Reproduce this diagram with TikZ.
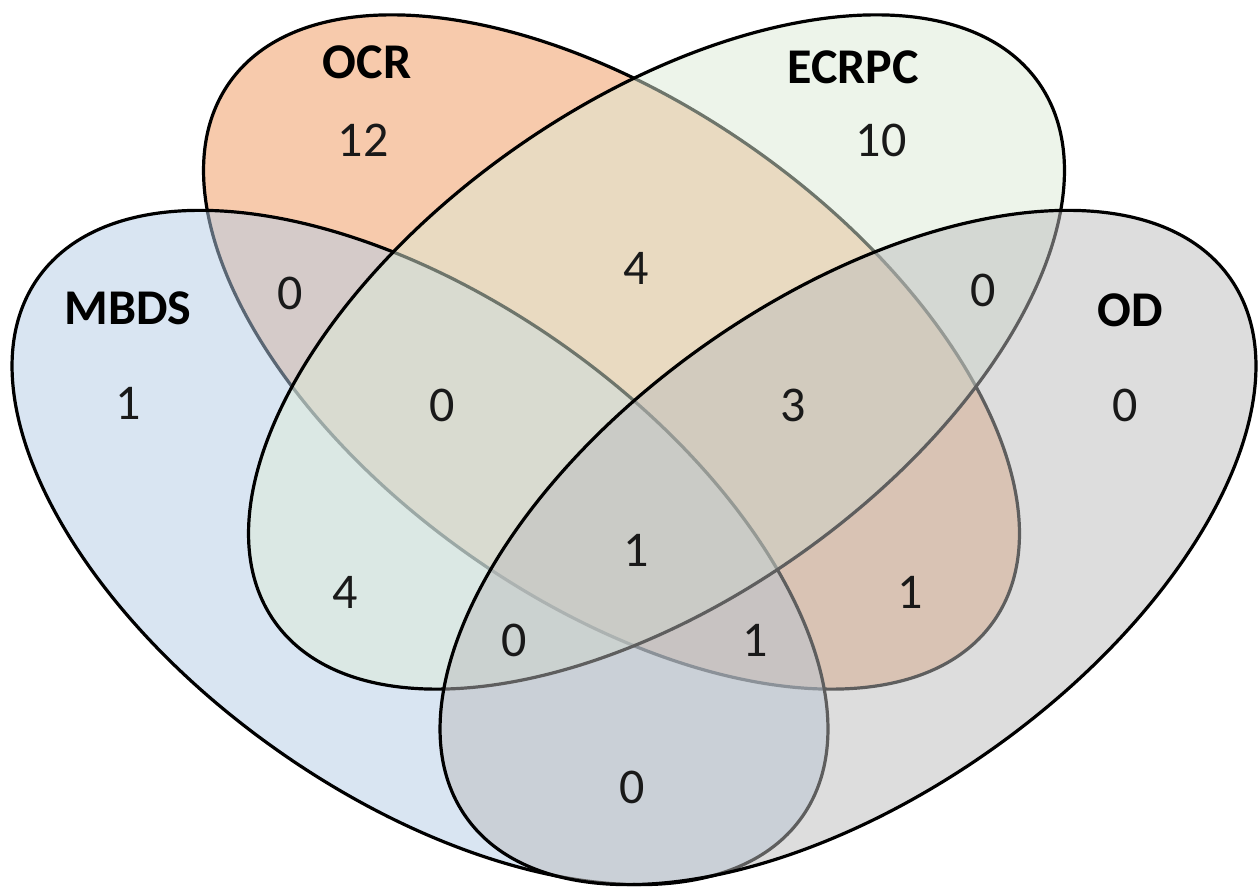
\documentclass[tikz,border=0pt]{standalone}
\usepackage{fontspec}
\setmainfont{Carlito}
\definecolor{ocrfill}{RGB}{241,151,91}
\definecolor{ecrfill}{RGB}{221,235,215}
\definecolor{mbdsfill}{RGB}{181,205,231}
\definecolor{odfill}{RGB}{189,189,189}
\definecolor{numcol}{RGB}{25,25,25}
\begin{document}
\begin{tikzpicture}[x=1pt,y=1pt,
  setshape/.style={line width=3.2pt, draw=black, fill opacity=0.5},
  setlabel/.style={font=\fontsize{50}{58}\selectfont\bfseries, inner sep=0pt, text=black},
  count/.style={font=\fontsize{50}{58}\selectfont, inner sep=0pt, text=numcol}]
\useasboundingbox (0,0) rectangle (1260,888);
\fill[white] (0,0) rectangle (1260,888);
% sets (drawing order: OCR, MBDS, ECRPC, OD)
\draw[setshape, fill=ocrfill, shift={(611.5,536)}, rotate=-35.2] (0,0) ellipse [x radius=467.5, y radius=247.9];
\draw[setshape, fill=mbdsfill, shift={(420,340.5)}, rotate=-35.2] (0,0) ellipse [x radius=467.5, y radius=247.9];
\draw[setshape, fill=ecrfill, shift={(656.5,536)}, rotate=35.2] (0,0) ellipse [x radius=467.5, y radius=247.9];
\draw[setshape, fill=odfill, shift={(848,340.5)}, rotate=35.2] (0,0) ellipse [x radius=467.5, y radius=247.9];
% set names
\node[setlabel] (lOCR) at (367,826) {OCR};
\node[setlabel] (lECRPC) at (853,821) {ECRPC};
\node[setlabel] (lMBDS) at (128,580) {MBDS};
\node[setlabel] (lOD) at (1130,578) {OD};
% counts
\node[count] (nOCR) at (363,748) {12};
\node[count] (nECR) at (881,748) {10};
\node[count] (nMBDS) at (128,485) {1};
\node[count] (nOD) at (1125,483) {0};
\node[count] (nMO) at (290,595) {0};
\node[count] (nOE) at (636,620) {4};
\node[count] (nEOD) at (983,598) {0};
\node[count] (nMOE) at (442,483) {0};
\node[count] (nOEOD) at (793,483) {3};
\node[count] (nAll) at (636,338) {1};
\node[count] (nME) at (345,296) {4};
\node[count] (nMEOD) at (514,248) {0};
\node[count] (nMOOD) at (755,248) {1};
\node[count] (nOOD) at (910,296) {1};
\node[count] (nMOD) at (632,101) {0};
\end{tikzpicture}
\end{document}
